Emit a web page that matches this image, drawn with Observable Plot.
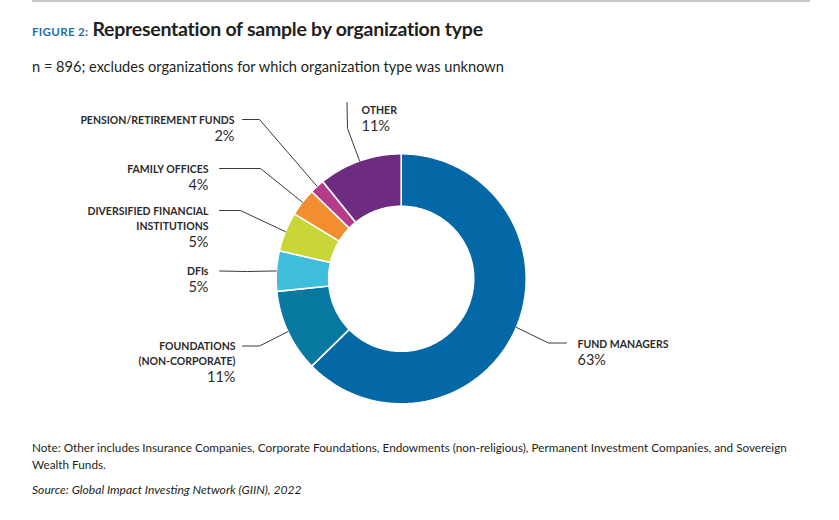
<!DOCTYPE html>
<html>
<head>
<meta charset="utf-8">
<script src="https://cdn.jsdelivr.net/npm/d3@7"></script>
<script src="https://cdn.jsdelivr.net/npm/@observablehq/plot@0.6"></script>
<style>
  html, body { margin: 0; padding: 0; background: #fff; }
  body { width: 839px; height: 520px; position: relative; overflow: hidden; font-family: Lato, "Open Sans", sans-serif; color: #231f20; }
  .rule { position: absolute; left: 32px; top: 0; width: 778px; height: 2px; background: #c6c6c6; }
  .title { position: absolute; left: 32px; top: 16px; line-height: 26px; white-space: nowrap; }
  .title .fig { color: #1f6fa9; font-size: 11.6px; font-weight: 700; letter-spacing: 0.3px; margin-right: 4px; }
  .title .main { font-size: 19.5px; font-weight: 700; letter-spacing: -0.25px; }
  .sub { position: absolute; left: 32px; top: 57px; font-size: 14.6px; line-height: 20px; white-space: nowrap; }
  .note { position: absolute; left: 32px; top: 439px; width: 790px; font-size: 11.75px; line-height: 17px; }
  .source { position: absolute; left: 32px; top: 481px; font-size: 12.1px; line-height: 17px; font-style: italic; }
  #chart { position: absolute; left: 0; top: 88px; }
</style>
</head>
<body>
<div class="rule"></div>
<div class="title"><span class="fig">FIGURE 2:</span><span class="main">Representation of sample by organization type</span></div>
<div class="sub">n = 896; excludes organizations for which organization type was unknown</div>
<div id="chart"></div>
<div class="note">Note: Other includes Insurance Companies, Corporate Foundations, Endowments (non-religious), Permanent Investment Companies, and Sovereign Wealth Funds.</div>
<div class="source">Source: Global Impact Investing Network (GIIN), 2022</div>
<script>
// ---- data (clockwise from 12 o'clock) ----
const categories = ["FUND MANAGERS", "FOUNDATIONS\n(NON-CORPORATE)", "DFIs", "DIVERSIFIED FINANCIAL\nINSTITUTIONS", "FAMILY OFFICES", "PENSION/RETIREMENT FUNDS", "OTHER"];
const shares = [62.7, 10.7, 5.2, 5.1, 3.6, 1.9, 10.8];
const shareLabels = ["63%", "11%", "5%", "5%", "4%", "2%", "11%"];
const colors = ["#0568a6", "#0779a1", "#3fbedb", "#c8d737", "#f28e2f", "#b63a8c", "#6e2c80"];

// ---- layout (svg pixel units) ----
const W = 839, H = 342;
const cx = 400.7, cy = 190.3, rOuter = 125, rInner = 72.5;
// label anchor x, first-line top y, anchor side, leader start, elbow
const labelLayout = [
  {x: 577, y: 249, anchor: "start", lead: [566, 254.5], elbow: [548, 254.5]},
  {x: 235, y: 251.5, anchor: "end", lead: [242, 257.5], elbow: [259, 257.5]},
  {x: 208, y: 176.5, anchor: "end", lead: [219, 182.5], elbow: [247, 183]},
  {x: 208, y: 116.5, anchor: "end", lead: [219, 122], elbow: [240, 122]},
  {x: 208, y: 74.5, anchor: "end", lead: [219, 80], elbow: [260, 80]},
  {x: 234, y: 25.5, anchor: "end", lead: [242, 31], elbow: [259, 31]},
  {x: 361, y: 15.5, anchor: "start", lead: [346.5, 14], elbow: [347, 40]}
];

const total = d3.sum(shares);
let acc = 0;
const slices = categories.map((name, i) => {
  const a0 = acc / total * 2 * Math.PI;
  acc += shares[i];
  const a1 = acc / total * 2 * Math.PI;
  return {name, i, a0, a1, mid: (a0 + a1) / 2};
});
const pt = (a, r) => [cx + r * Math.sin(a), cy - r * Math.cos(a)];

// ring polygons
const ring = [];
for (const s of slices) {
  const n = Math.max(4, Math.ceil((s.a1 - s.a0) / (Math.PI / 180)));
  for (let k = 0; k <= n; k++) {
    const a = s.a0 + (s.a1 - s.a0) * k / n;
    const [x, y] = pt(a, rOuter);
    ring.push({name: s.name, x, y});
  }
  for (let k = n; k >= 0; k--) {
    const a = s.a0 + (s.a1 - s.a0) * k / n;
    const [x, y] = pt(a, rInner);
    ring.push({name: s.name, x, y});
  }
  const [x, y] = pt(s.a0, rOuter);
  ring.push({name: s.name, x, y});
}

// leader lines
const leaders = [];
slices.forEach((s, i) => {
  const L = labelLayout[i];
  const [ex, ey] = pt(s.mid, rOuter);
  leaders.push({k: i, x: L.lead[0], y: L.lead[1]});
  leaders.push({k: i, x: L.elbow[0], y: L.elbow[1]});
  leaders.push({k: i, x: ex, y: ey});
});

const labels = slices.map((s, i) => {
  const L = labelLayout[i];
  const lines = s.name.split("\n").length;
  return {text: s.name, pct: shareLabels[i], x: L.x, y: L.y, anchor: L.anchor, py: L.y + (lines - 1) * 14.5 + 17};
});

const chart = Plot.plot({
  width: W, height: H,
  marginTop: 0, marginRight: 0, marginBottom: 0, marginLeft: 0,
  x: {domain: [0, W], range: [0, W], axis: null},
  y: {domain: [0, H], range: [0, H], axis: null},
  color: {domain: categories, range: colors},
  style: {fontFamily: "Lato, 'Open Sans', sans-serif", background: "white"},
  marks: [
    Plot.line(ring, {x: "x", y: "y", z: "name", fill: "name", stroke: "white", strokeWidth: 1.6, strokeLinejoin: "miter"}),
    Plot.line(leaders, {x: "x", y: "y", z: "k", stroke: "#3a3a3a", strokeWidth: 1}),
    ...["start", "end"].map(side =>
      Plot.text(labels.filter(d => d.anchor === side), {
        x: "x", y: "y", text: "text", textAnchor: side, lineAnchor: "top",
        fontSize: 10.5, fontWeight: 700, fill: "#2b2b2b", lineHeight: 1.38, letterSpacing: "0.7px"
      })),
    ...["start", "end"].map(side =>
      Plot.text(labels.filter(d => d.anchor === side), {
        x: "x", y: "py", text: "pct", textAnchor: side, lineAnchor: "top",
        fontSize: 14.5, fill: "#2b2b2b"
      }))
  ]
});
document.getElementById("chart").appendChild(chart);
</script>
</body>
</html>
